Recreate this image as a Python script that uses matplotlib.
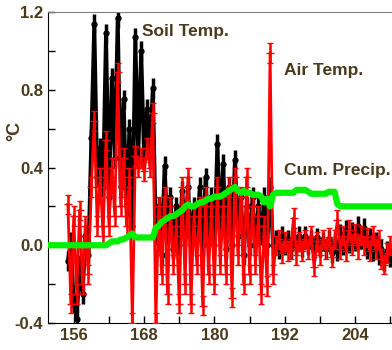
import numpy as np
import matplotlib
matplotlib.use("Agg")
import matplotlib.pyplot as plt
from matplotlib.ticker import MultipleLocator

# day of year, half-day steps
days = np.arange(152.0, 210.5, 0.5)

soil_temp = [
    0, 0, 0, 0, 0, 0,                                   # 152.0 - 154.5
    -0.08, 0.02, -0.30, -0.38, -0.10, -0.25, 0.05, -0.05,  # 155.0 - 158.5
    0.55, 1.14, 0.35, 0.50, 0.30, 1.09, 0.25, 0.86,     # 159.0 - 162.5
    0.45, 1.17, 0.30, 0.75, 0.20, 0.60, 0.10, 1.07,     # 163.0 - 166.5
    0.45, 1.00, 0.45, 0.70, 0.50, 0.81, 0.05, 0.20,     # 167.0 - 170.5
    -0.05, 0.41, 0.05, 0.25, -0.02, 0.20, 0.00, 0.28,   # 171.0 - 174.5
    0.05, 0.30, 0.00, 0.20, 0.05, 0.30, 0.00, 0.35,     # 175.0 - 178.5
    0.05, 0.25, 0.00, 0.52, 0.10, 0.42, -0.02, 0.30,    # 179.0 - 182.5
    0.00, 0.44, 0.05, 0.25, -0.05, 0.20, 0.00, 0.25,    # 183.0 - 186.5
    0.00, 0.20, 0.05, 0.25, 0.00, 0.30, 0.00, 0.03,     # 187.0 - 190.5
    -0.02, 0.05, 0.00, 0.03, -0.02, 0.04, 0.00, 0.05,   # 191.0 - 194.5
    -0.01, 0.05, 0.00, 0.03, -0.03, 0.04, -0.01, 0.02,  # 195.0 - 198.5
    -0.02, 0.03, -0.04, 0.02, -0.03, 0.06, 0.00, 0.08,  # 199.0 - 202.5
    0.01, 0.07, 0.02, 0.10, 0.03, 0.09, -0.02, 0.04,    # 203.0 - 206.5
    -0.03, 0.02, -0.05, -0.02, -0.08, -0.03, -0.06,     # 207.0 - 210.0
]

air_temp = [
    0, 0, 0, 0, 0, 0,
    0.21, -0.30, 0.15, -0.25, 0.18, -0.20, 0.10, -0.15,
    0.30, 0.64, 0.10, 0.35, 0.05, 0.54, 0.10, 0.40,
    0.15, 0.89, 0.20, 0.45, 0.10, 0.35, -0.40, 0.46,
    0.40, 0.45, 0.38, 0.50, 0.40, 0.68, -0.40, 0.20,
    -0.15, 0.25, -0.25, 0.20, -0.10, 0.10, -0.30, 0.30,
    -0.20, 0.35, -0.30, 0.15, -0.10, 0.20, -0.31, 0.25,
    -0.15, 0.20, -0.20, 0.30, -0.10, 0.20, -0.15, 0.30,
    -0.27, 0.35, -0.05, 0.25, -0.20, 0.35, -0.15, 0.20,
    -0.10, 0.15, -0.25, 0.10, -0.21, 0.99, -0.15, 0.00,
    0.03, -0.04, 0.02, -0.03, -0.02, 0.14, -0.05, 0.02,
    -0.03, 0.03, -0.02, 0.05, -0.11, 0.02, -0.05, 0.03,
    -0.02, 0.04, -0.06, 0.03, 0.13, -0.02, 0.05, -0.03,
    0.08, 0.00, 0.06, -0.02, 0.05, 0.00, 0.04, -0.03,
    0.05, -0.02, 0.03, -0.07, -0.10, -0.04, 0.00,
]

cum_precip = [
    0, 0, 0, 0, 0, 0,
    0, 0, 0, 0, 0, 0, 0, 0,
    0, 0, 0, 0, 0, 0, 0.01, 0.02,
    0.02, 0.02, 0.03, 0.03, 0.04, 0.05, 0.06, 0.04,
    0.04, 0.04, 0.04, 0.04, 0.04, 0.04, 0.09, 0.10,
    0.12, 0.13, 0.14, 0.15, 0.15, 0.16, 0.17, 0.18,
    0.20, 0.21, 0.20, 0.20, 0.21, 0.22, 0.22, 0.23,
    0.24, 0.24, 0.25, 0.25, 0.25, 0.26, 0.27, 0.28,
    0.29, 0.30, 0.28, 0.27, 0.28, 0.27, 0.27, 0.26,
    0.26, 0.26, 0.25, 0.22, 0.24, 0.20, 0.26, 0.27,
    0.27, 0.27, 0.27, 0.27, 0.27, 0.27, 0.285, 0.285,
    0.285, 0.285, 0.275, 0.265, 0.265, 0.265, 0.265, 0.265,
    0.265, 0.275, 0.275, 0.275, 0.21, 0.20, 0.20, 0.20,
    0.20, 0.20, 0.20, 0.20, 0.20, 0.20, 0.20, 0.20,
    0.20, 0.20, 0.20, 0.20, 0.20, 0.20, 0.20,
]

# measurement uncertainty shown as error bars (none before logging started)
soil_err = 0.05
air_err = 0.05
start_day = 154.75

text_color = "#4a3a1c"

logging = days >= start_day
soil_yerr = np.where(logging, soil_err, 0.0)
air_yerr = np.where(logging, air_err, 0.0)

fig = plt.figure(figsize=(3.92, 3.5), dpi=100)
ax = fig.add_axes([0.1224, 0.0771, 0.8776, 0.8886])

ax.plot(days[~logging], np.array(air_temp)[~logging], color="red", lw=2, zorder=3)
ax.errorbar(days[logging], np.array(soil_temp)[logging], yerr=soil_yerr[logging],
            color="black", lw=2.8, elinewidth=2.5, capsize=0, marker="o",
            ms=3.5, zorder=2)
ax.errorbar(days[logging], np.array(air_temp)[logging], yerr=air_yerr[logging],
            color="red", lw=2.0, elinewidth=1.8, capsize=2.5, capthick=1,
            marker="+", ms=6, mew=1, zorder=3)
ax.plot(days, cum_precip, color="#00f000", lw=4.5, zorder=4)

ax.set_xlim(151.6, 210.3)
ax.set_ylim(-0.4, 1.2)
ax.xaxis.set_minor_locator(MultipleLocator(6))
ax.yaxis.set_minor_locator(MultipleLocator(0.2))
ax.set_xticks([156, 168, 180, 192, 204])
ax.set_yticks([-0.4, 0.0, 0.4, 0.8, 1.2])
ax.set_yticklabels(["-0.4", "0.0", "0.4", "0.8", "1.2"])
ax.tick_params(which="both", direction="in", length=5, width=1, colors="black")
ax.tick_params(labelsize=12, labelcolor=text_color)
for lbl in ax.get_xticklabels() + ax.get_yticklabels():
    lbl.set_fontweight("bold")
    lbl.set_family("Liberation Sans")

ax.spines["top"].set_color("#808080")
ax.spines["right"].set_visible(False)

fig.text(15 / 392, 1 - 131 / 350, "°C", rotation=90, ha="center", va="center",
         fontsize=13, fontweight="bold", color=text_color,
         family="Liberation Sans")

tkw = dict(fontsize=12.5, fontweight="bold", color=text_color,
           family="Liberation Sans", va="center")
ax.text(167.6, 1.10, "Soil Temp.", **tkw)
ax.text(191.9, 0.90, "Air Temp.", **tkw)
ax.text(191.9, 0.385, "Cum. Precip.", **tkw)

fig.savefig("out.png", dpi=100)
